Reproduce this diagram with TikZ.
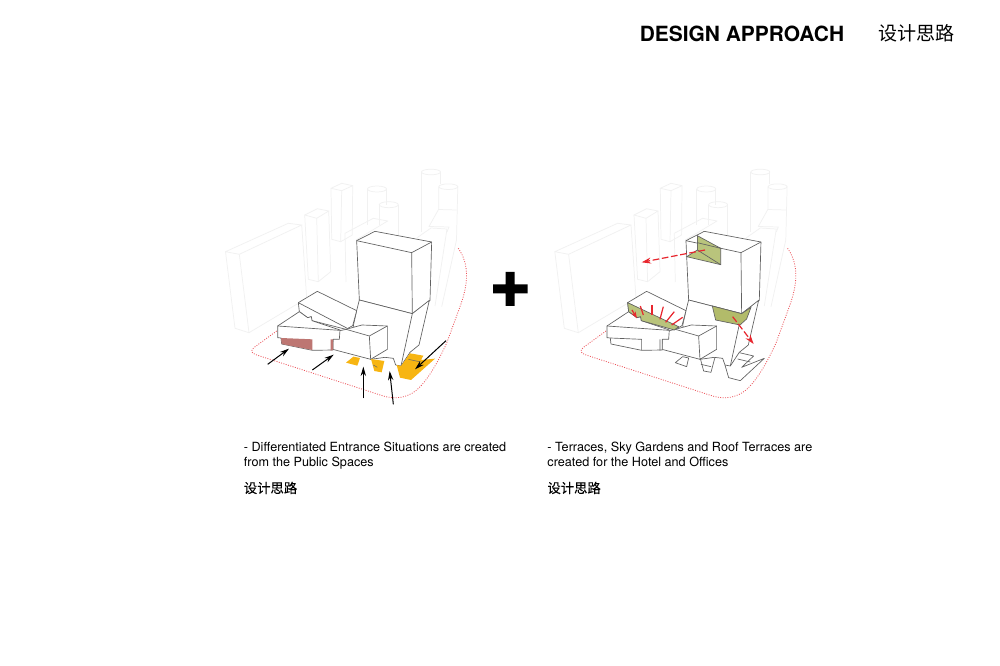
\documentclass[tikz,border=0pt]{standalone}
\usepackage{fontspec}
\usetikzlibrary{arrows.meta}
\setmainfont{TeX Gyre Heros}
\newfontfamily\cjk{Noto Sans CJK SC}
\newfontfamily\cjkmed[FakeBold=0.15]{Noto Sans CJK SC}
\definecolor{ctx}{HTML}{F1F1F1}
\definecolor{amber}{HTML}{F7B512}
\definecolor{brick}{HTML}{BD7672}
\definecolor{moss}{HTML}{B9C47C}
\definecolor{moss2}{HTML}{B2BB6A}
\definecolor{redline}{HTML}{E8262E}
\tikzset{
  ctxline/.style={draw=ctx,line width=0.55pt,line join=round},
  bld/.style={draw=black!62,fill=white,line width=0.5pt,line join=round},
  bldline/.style={draw=black!62,line width=0.5pt,line join=round},
  site/.style={draw=redline!80,line width=0.6pt,dash pattern=on 0.7pt off 1.1pt},
  zoomed/.style={x=0.25pt,y=-0.25pt},
  blackarrow/.style={draw=black,line width=0.75pt,-{Stealth[length=7pt,width=4pt]}},
  redarrow/.style={draw=redline,line width=0.9pt,dash pattern=on 5pt off 2pt,-{Stealth[length=7pt,width=4.5pt]}},
  fan/.style={draw=redline,line width=0.9pt},
  caption/.style={anchor=base west,inner sep=0pt,font=\fontsize{9.48}{11}\selectfont},
  cjkcap/.style={anchor=base west,inner sep=0pt,font=\cjkmed\fontsize{10}{12}\selectfont}
}
\newcommand{\contextblocks}{%
  \draw[ctxline] (225.5,251.7)--(288.3,223.3)--(301.7,225)--(239.3,254.3)--cycle;
  \draw[ctxline] (225.5,251.7)--(235,328.3)--(249,332.7)--(306.7,298.3)--(301.7,225);
  \draw[ctxline] (239.3,254.3)--(249,332.7);
  \draw[ctxline] (304.7,215)--(317.3,208.7)--(328.7,211)--(316.7,218.3)--cycle;
  \draw[ctxline] (304.7,215)--(308.3,279.3)--(318.3,281.7)--(330.7,271.7)--(328.7,211);
  \draw[ctxline] (316.7,218.3)--(318.3,281.7);
  \draw[ctxline] (331,188.3)--(341.7,183.3)--(352.7,185.7)--(341.7,190.7)--cycle;
  \draw[ctxline] (331,188.3)--(331.7,239.3)--(340.7,241.7)--(352.3,235)--(352.7,185.7);
  \draw[ctxline] (341.7,190.7)--(340.7,241.7);
  \draw[ctxline] (377,189) ellipse (9.5 and 3);
  \draw[ctxline] (367.5,189)--(367.5,225) (386.5,189)--(386.5,205);
  \draw[ctxline] (388.8,204.7) ellipse (9.5 and 3);
  \draw[ctxline] (379.3,204.7)--(379.3,225) (398.3,204.7)--(398.3,240);
  \draw[ctxline] (431,172) ellipse (9.5 and 2.8);
  \draw[ctxline] (421.5,172)--(421.5,232) (440.5,172)--(440.5,184);
  \draw[ctxline] (448.3,186.7) ellipse (9.5 and 2.8);
  \draw[ctxline] (438.8,186.7)--(438.8,210) (457.8,186.7)--(456.5,240)--(441.7,306.7);
  \draw[ctxline] (345,233.3)--(373.3,218.3)--(387.7,221)--(356,240);
  \draw[ctxline] (345,233.3)--(346,282);
  \draw[ctxline] (438.5,209.5)--(456.5,210);
  \draw[ctxline] (438.5,209.5)--(429,226.5)--(449,227)--(447,232);
  \draw[ctxline] (416.7,238)--(431,228)--(447,229)--(435,306);
}
\newcommand{\sitecurve}{%
  \draw[site] (276.7,331)--(254,347.5)
    .. controls (250.5,350.5) and (250.5,353) .. (256.7,355)
    --(383.3,396)
    .. controls (395,399.5) and (407,398) .. (416.7,390)
    .. controls (428,380) and (438,362) .. (446.7,343)
    --(460,306.7)
    .. controls (468,285) and (470,265) .. (458.3,248.3);
}
\newcommand{\massing}{%
  \begin{scope}[shift={(240,270)},zoomed]
    % tower
    \path[bld] (350,-88)--(405,-116)--(575,-84)--(570,91)--(517,131)--(358,90)--cycle;
    \path[bldline] (350,-88)--(515,-52)--(575,-84) (515,-52)--(517,131);
    % lower tower
    \path[bld] (358,90)--(517,131)--(568,91)--(537,225)--(510,247)--(483,288)--(467,285)--(460,265)--(435,262)--(392,268)--(340,167)--(350,122)--cycle;
    \path[bldline] (517,131)--(483,288);
    % upper podium
    \path[bld] (175,98)--(232,64)--(350,122)--(338,167)--(318,178)--(216,152)--(214,140)--(203,143)--(178,125)--cycle;
    \path[bldline] (175,98)--(320,174);
    % right podium block
    \path[bld] (300,182)--(318,178)--(366,165)--(442,168)--(442,238)--(392,268)--(278,238)--(279,208)--cycle;
    \path[bldline] (318,178)--(388,198)--(442,168) (388,198)--(392,268);
    % lower-left podium
    \path[bld] (113,168)--(178,125)--(203,143)--(214,140)--(216,152)--(300,180)--(298,208)--(279,208)--(279,240)--(217,241)--(125,222)--(123,204)--(113,203)--cycle;
    \path[bldline] (113,168)--(299,181);
  \end{scope}
}
\begin{document}
\begin{tikzpicture}[x=0.75pt,y=-0.75pt]
\useasboundingbox[fill=white] (0,0) rectangle (1000,666);
% ---------- left diagram
\contextblocks
\sitecurve
\massing
\begin{scope}[shift={(240,270)},zoomed]
  \fill[amber] (318,278)--(340,260)--(360,264)--(352,287)--cycle;
  \fill[amber] (393,267)--(433,273)--(425,307)--(403,303)--cycle;
  \fill[amber] (470,285)--(483,288)--(510,250)--(550,257)--(543,270)--(585,266)--(513,330)--(480,323)--cycle;
  \fill[brick] (123,204)--(217,208)--(217,240)--(125,222)--cycle;
  \fill[brick] (272,208)--(279,208)--(279,240)--(272,242)--cycle;
  \draw[black!60,line width=0.4pt] (400,285)--(412,292);
  \draw[black!60,line width=0.4pt] (505,268)--(543,276);
  \draw[blackarrow] (83,283)--(147,236);
  \draw[blackarrow] (217,300)--(281,254);
  \draw[blackarrow] (370,385)--(370,290);
  \draw[blackarrow] (460,403)--(449,303);
  \draw[blackarrow] (618,212)--(525,298);
\end{scope}
% ---------- plus
\fill[black] (505.5,272)--(514.5,272)--(514.5,284.5)--(527.5,284.5)--(527.5,293.5)--(514.5,293.5)--(514.5,306)--(505.5,306)--(505.5,293.5)--(493,293.5)--(493,284.5)--(505.5,284.5)--cycle;
% ---------- right diagram
\begin{scope}[shift={(329.3,0)}]
  \contextblocks
  \sitecurve
  \massing
  \begin{scope}[shift={(240,270)},zoomed]
    \path[bldline] (123,204)--(217,208)--(217,240) (272,208)--(272,242);
    \path[bldline] (318,278)--(340,260)--(358,264)--(352,290)--cycle;
    \path[bldline] (393,265)--(403,303)--(425,307)--(437,262);
    \path[bldline] (467,285)--(478,323)--(513,332)--(585,265)--(517,292)--(553,258)--(510,248);
    \path[bldline] (505,267)--(543,276);
    \path[bldline] (395,283)--(425,290);
    % roof terrace
    \path[draw=black!62,fill=moss,line width=0.5pt] (175,98)--(328,170)--(315,180)--(216,152)--(214,140)--(203,143)--(178,125)--cycle;
    % lower tower terrace
    \path[draw=black!62,fill=moss2,line width=0.5pt] (429,108)--(517,131)--(545,112)--(532,147)--(512,165)--(439,150)--cycle;
    \draw[fan] (213,108)--(222,135);
    \draw[fan] (248,105)--(248,135);
    \draw[fan] (282,110)--(272,148);
    \draw[fan] (315,125)--(289,157);
    \draw[fan] (340,142)--(307,165);
    \draw[fan,-{Stealth[length=5pt,width=3.5pt]}] (188,120)--(203,145);
    \draw[redarrow] (490,140)--(553,222);
  \end{scope}
\end{scope}
% upper terrace on the right diagram
\begin{scope}[shift={(550,160)},zoomed]
  \path[draw=black!62,fill=moss,line width=0.5pt] (442,227)--(512,265)--(512,314)--(410,290)--(442,270)--cycle;
  \path[bldline] (442,227)--(442,270)--(512,314) (442,248)--(512,265);
  \draw[redarrow] (465,270)--(275,307);
\end{scope}
% ---------- text
\node[anchor=base west,inner sep=0pt,font=\bfseries\fontsize{15.7}{19}\selectfont] (title) at (639.5,41.7) {DESIGN APPROACH};
\node[anchor=base west,inner sep=0pt,font=\cjk\fontsize{14.3}{17}\selectfont] (titlecn) at (878,41) {设计思路};
\node[caption] (la) at (243.6,451.5) {- Differentiated Entrance Situations are created};
\node[caption] (lb) at (243.6,466.5) {from the Public Spaces};
\node[cjkcap] (lc) at (243.6,493) {设计思路};
\node[caption] (ra) at (547.2,451.5) {- Terraces, Sky Gardens and Roof Terraces are};
\node[caption] (rb) at (547.2,466.5) {created for the Hotel and Offices};
\node[cjkcap] (rc) at (547.2,493) {设计思路};
\end{tikzpicture}
\end{document}
